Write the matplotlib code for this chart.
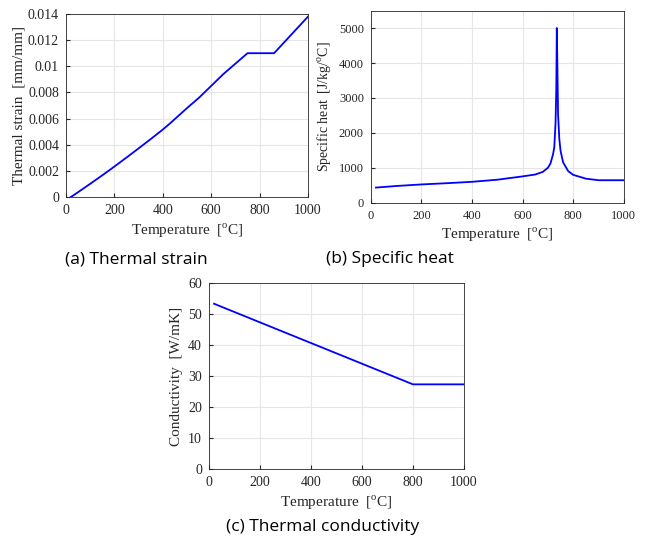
import numpy as np
from matplotlib import pyplot as plt

plt.rcParams['font.family'] = 'Liberation Serif'
plt.rcParams['mathtext.fontset'] = 'custom'
plt.rcParams['mathtext.rm'] = 'Liberation Serif'

# (a) thermal strain
temp_strain = [20, 50, 100, 150, 200, 250, 300, 350, 400, 428, 440, 500, 550, 600, 650, 700, 750, 860, 1000]
strain = [0.0, 0.00037, 0.00101, 0.00166, 0.00233, 0.00302, 0.00372, 0.00443, 0.00516, 0.0056, 0.0058,
          0.0068, 0.0076, 0.0085, 0.0094, 0.0102, 0.011, 0.011, 0.0138]

# (b) specific heat
temp_heat = [20, 100, 200, 300, 400, 500, 600, 650, 680, 700, 710, 720, 725, 730, 733, 735,
             738, 740, 745, 750, 760, 780, 800, 850, 900, 1000]
heat = [440, 485, 530, 565, 605, 665, 760, 814, 890, 1008, 1130, 1388, 1590, 2290, 3270, 5000,
        3520, 2525, 1820, 1483, 1160, 910, 803, 695, 650, 650]

# (c) conductivity
temp_cond = [20, 800, 1000]
cond = [53.3, 27.3, 27.3]

captions = ['(a) Thermal strain', '(b) Specific heat', '(c) Thermal conductivity']
xlabel = 'Temperature  [$^{\\rm o}$C]'

fig = plt.figure(figsize=(6.45, 5.42), dpi=100)
ax1 = fig.add_axes([0.1023, 0.6365, 0.3752, 0.3377])
ax2 = fig.add_axes([0.575, 0.6255, 0.3922, 0.3551])
ax3 = fig.add_axes([0.324, 0.1347, 0.3953, 0.3432])


def style(ax):
    ax.grid(True, color='#e6e6e6', linewidth=0.8)
    ax.set_axisbelow(True)
    ax.tick_params(direction='in', labelsize=10, colors='#262626', length=3, pad=5)
    for s in ax.spines.values():
        s.set_color('#262626')
        s.set_linewidth(0.6)
    ax.set_xlim(0, 1000)
    ax.set_xticks([0, 200, 400, 600, 800, 1000])
    ax.set_xlabel(xlabel, fontsize=11, color='#262626', labelpad=3)


ax1.plot(temp_strain, strain, color='blue', linewidth=1.3)
style(ax1)
ax1.set_ylim(0, 0.014)
ax1.set_yticks([0, 0.002, 0.004, 0.006, 0.008, 0.01, 0.012, 0.014])
ax1.set_yticklabels(['0', '0.002', '0.004', '0.006', '0.008', '0.01', '0.012', '0.014'])
ax1.set_ylabel('Thermal strain  [mm/mm]', fontsize=11, color='#262626', labelpad=2)

ax2.plot(temp_heat, heat, color='blue', linewidth=1.3)
style(ax2)
ax2.set_ylim(0, 5500)
ax2.set_yticks([0, 1000, 2000, 3000, 4000, 5000])
ax2.tick_params(labelsize=9)
ax2.set_ylabel('Specific heat  [J/kg/$^{\\rm o}$C]', fontsize=10, color='#262626')

ax3.plot(temp_cond, cond, color='blue', linewidth=1.3)
style(ax3)
ax3.set_ylim(0, 60)
ax3.set_yticks([0, 10, 20, 30, 40, 50, 60])
ax3.set_ylabel('Conductivity  [W/mK]', fontsize=11, color='#262626')

fig.text(0.211, 1 - 259 / 542, captions[0], fontsize=12.5, family='Open Sans', ha='center', va='center')
fig.text(0.605, 1 - 259 / 542, captions[1], fontsize=12.5, family='Open Sans', ha='center', va='center')
fig.text(0.5, 1 - 527 / 542, captions[2], fontsize=12.5, family='Open Sans', ha='center', va='center')

fig.savefig('out.png', dpi=100)
